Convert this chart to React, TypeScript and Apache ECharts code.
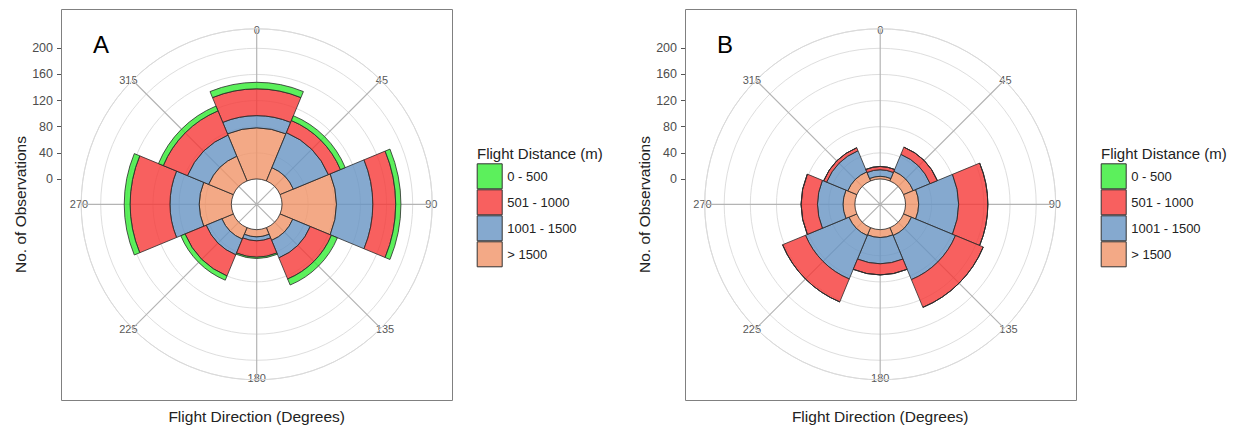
import React, { useEffect, useRef } from 'react';
import * as echarts from 'echarts';

// Flight directions (bar categories, degrees)
const directions = ['0', '45', '90', '135', '180', '225', '270', '315'];
// Distance classes, stacking order from the centre outwards
const stackOrder = ['> 1500', '1001 - 1500', '501 - 1000', '0 - 500'];
// Legend order, top to bottom
const legendOrder = ['0 - 500', '501 - 1000', '1001 - 1500', '> 1500'];
// Radial (observation count) ticks
const radiusTicks = [0, 40, 80, 120, 160, 200];
// Angle ticks
const angleTicks = [0, 45, 90, 135, 180, 225, 270, 315];

// Panel A values, per direction
const aOver1500 = [78, 22, 83, 21, 11, 19, 49, 41];
const a1001to1500 = [19, 58, 56, 29, 6, 26, 45, 35];
const a501to1000 = [41, 20, 35, 35, 25, 35, 61, 40];
const a0to500 = [10, 8, 8, 10, 2, 7, 9, 8];

// Panel B values, per direction
const bOver1500 = [4, 16, 20, 13, 12, 13, 18, 15];
const b1001to1500 = [10, 28, 61, 73, 40, 72, 39, 35];
const b501to1000 = [5, 12, 45, 46, 17, 38, 25, 5];
const b0to500 = [0, 0, 0, 0, 0, 0, 0, 0];

const panelA = [aOver1500, a1001to1500, a501to1000, a0to500];
const panelB = [bOver1500, b1001to1500, b501to1000, b0to500];

const COLORS: Record<string, string> = {
  '0 - 500': 'rgba(51,236,51,0.8)',
  '501 - 1000': 'rgba(246,56,55,0.8)',
  '1001 - 1500': 'rgba(102,147,195,0.8)',
  '> 1500': 'rgba(240,147,104,0.8)',
};

const FONT = '"Liberation Sans", Arial, sans-serif';

export default function App() {
  const ref = useRef<HTMLDivElement>(null);

  useEffect(() => {
    if (!ref.current) return;
    const chart = echarts.init(ref.current, undefined, { renderer: 'svg' });

    const cy = 204.3;
    const hole = 25.3;
    const outer = 175.5;
    const pxPerUnit = 130.7 / 200;
    const rMax = (outer - hole) / pxPerUnit;
    const panels = [
      { cx: 256.7, left: 61, label: 'A', data: panelA, stack: 'A' },
      { cx: 880.2, left: 685, label: 'B', data: panelB, stack: 'B' },
    ];

    const polar: any[] = [];
    const angleAxis: any[] = [];
    const radiusAxis: any[] = [];
    const grid: any[] = [];
    const xAxis: any[] = [];
    const yAxis: any[] = [];
    const legend: any[] = [];
    const series: any[] = [];
    const graphic: any[] = [];

    panels.forEach((p, i) => {
      const gIdx = i * 2;
      const bIdx = i * 2 + 1;
      polar.push({ center: [p.cx, cy], radius: [0, outer] });
      polar.push({ center: [p.cx, cy], radius: [hole, outer] });

      angleAxis.push({
        polarIndex: gIdx,
        type: 'value',
        min: 0,
        max: 360,
        interval: 45,
        startAngle: 90,
        clockwise: true,
        axisLine: { show: true, lineStyle: { color: '#dadada', width: 1 } },
        axisTick: { show: false },
        axisLabel: {
          margin: -7,
          color: '#595959',
          fontSize: 11,
          fontFamily: FONT,
          formatter: (v: number) => (angleTicks.includes(v) ? String(v) : ''),
        },
        splitLine: { show: true, lineStyle: { color: '#b4b4b4', width: 1.2 } },
      });
      angleAxis.push({
        polarIndex: bIdx,
        type: 'category',
        data: directions,
        startAngle: 112.5,
        clockwise: true,
        show: false,
      });

      radiusAxis.push({ polarIndex: gIdx, type: 'value', min: 0, max: 1, show: false });
      radiusAxis.push({
        polarIndex: bIdx,
        type: 'value',
        min: 0,
        max: rMax,
        interval: 40,
        axisLine: { show: false },
        axisTick: { show: false },
        axisLabel: { show: false },
        splitLine: { show: true, lineStyle: { color: '#dedede', width: 1 } },
      });

      grid.push({ left: p.left, top: cy - hole - 200 * pxPerUnit, width: 1, height: 200 * pxPerUnit });
      xAxis.push({ gridIndex: i, type: 'value', show: false, min: 0, max: 1 });
      yAxis.push({
        gridIndex: i,
        type: 'value',
        min: radiusTicks[0],
        max: radiusTicks[radiusTicks.length - 1],
        interval: 40,
        axisLine: { show: false },
        axisTick: { show: true, length: 4, lineStyle: { color: '#555' } },
        axisLabel: { margin: 8, color: '#4d4d4d', fontSize: 12.5, fontFamily: FONT },
        splitLine: { show: false },
      });

      legend.push({
        data: legendOrder,
        orient: 'vertical',
        left: p.left + 415.7,
        top: 163.3,
        itemWidth: 25,
        itemHeight: 25,
        itemGap: 0,
        padding: 0,
        icon: 'rect',
        selectedMode: false,
        textStyle: { fontSize: 13, color: '#222', fontFamily: FONT },
        itemStyle: { borderColor: '#333', borderWidth: 1 },
      });

      stackOrder.forEach((name, k) => {
        series.push({
          type: 'bar',
          name,
          coordinateSystem: 'polar',
          polarIndex: bIdx,
          stack: p.stack,
          data: p.data[k],
          barCategoryGap: '0%',
          silent: true,
          itemStyle: { color: COLORS[name], borderColor: '#2a2a2a', borderWidth: 0.8 },
        });
      });

      graphic.push({
        type: 'rect',
        shape: { x: p.left + 0.5, y: 9.5, width: 391, height: 391 },
        style: { fill: 'none', stroke: '#808080', lineWidth: 1 },
        silent: true,
      });
      graphic.push({
        type: 'text',
        x: p.cx,
        y: 416,
        style: {
          text: 'Flight Direction (Degrees)',
          fill: '#222',
          font: `15.5px ${FONT}`,
          textAlign: 'center',
          textVerticalAlign: 'middle',
        },
      });
      graphic.push({
        type: 'text',
        x: p.left - 41,
        y: 204.5,
        rotation: Math.PI / 2,
        style: {
          text: 'No. of Observations',
          fill: '#222',
          font: `15.5px ${FONT}`,
          textAlign: 'center',
          textVerticalAlign: 'middle',
        },
      });
      graphic.push({
        type: 'text',
        x: p.left + 32,
        y: 44,
        style: {
          text: p.label,
          fill: '#000',
          font: `24px ${FONT}`,
          textAlign: 'left',
          textVerticalAlign: 'middle',
        },
      });
      graphic.push({
        type: 'text',
        x: p.left + 416,
        y: 153,
        style: {
          text: 'Flight Distance (m)',
          fill: '#222',
          font: `15px ${FONT}`,
          textAlign: 'left',
          textVerticalAlign: 'middle',
        },
      });
    });

    chart.setOption({
      animation: false,
      backgroundColor: '#ffffff',
      textStyle: { fontFamily: FONT },
      polar,
      angleAxis,
      radiusAxis,
      grid,
      xAxis,
      yAxis,
      legend,
      series,
      graphic,
    });

    return () => chart.dispose();
  }, []);

  return (
    <div
      ref={ref}
      style={{ position: 'absolute', left: 0, top: 0, width: 1244, height: 435 }}
    />
  );
}
